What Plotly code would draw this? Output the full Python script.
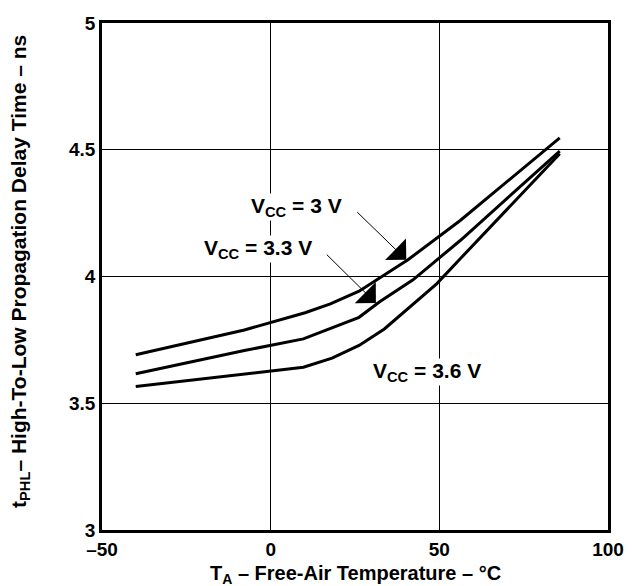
import plotly.graph_objects as go

# Data
t_3v0 = [-40, -7.8, 10.2, 17.7, 26.2, 40.7, 56.2, 85.7]
d_3v0 = [3.691, 3.789, 3.857, 3.892, 3.942, 4.066, 4.221, 4.547]

t_3v3 = [-40, -7.8, 9.7, 26.2, 32.2, 42.2, 56.2, 85.7]
d_3v3 = [3.616, 3.708, 3.754, 3.839, 3.899, 3.987, 4.142, 4.495]

t_3v6 = [-40, 9.7, 18.2, 26.2, 33.7, 49.2, 56.2, 76.2, 85.7]
d_3v6 = [3.566, 3.642, 3.678, 3.728, 3.793, 3.971, 4.070, 4.353, 4.484]

x_ticks = [-50, 0, 50, 100]
x_ticktext = ["–50", "0", "50", "100"]
y_ticks = [3, 3.5, 4, 4.5, 5]
y_ticktext = ["3", "3.5", "4", "4.5", "5"]

x_title = "T<sub>A</sub> – Free-Air Temperature – °C"
y_title = "t<sub>PHL</sub>– High-To-Low Propagation Delay Time – ns"

FONT = "Liberation Sans"

fig = go.Figure()
for t, d in [(t_3v0, d_3v0), (t_3v3, d_3v3), (t_3v6, d_3v6)]:
    fig.add_trace(go.Scatter(x=t, y=d, mode="lines",
                             line=dict(color="black", width=3),
                             showlegend=False, hoverinfo="skip"))

axis_common = dict(showgrid=True, gridcolor="black", gridwidth=1,
                   showline=True, linecolor="black", linewidth=2.5, mirror=True,
                   zeroline=False, ticks="", automargin=False,
                   tickfont=dict(family=FONT, size=19, color="black"))

fig.update_xaxes(range=[-50, 100], tickvals=x_ticks,
                 ticktext=["<b>%s</b>" % s for s in x_ticktext], **axis_common)
fig.update_yaxes(range=[3, 5], tickvals=y_ticks,
                 ticktext=["<b>%s</b>" % s for s in y_ticktext], **axis_common)

# axis titles as annotations (placed like the reference)
fig.add_annotation(xref="paper", yref="paper", x=0.5, y=-0.088,
                   text="<b>" + x_title + "</b>", showarrow=False,
                   xanchor="center", yanchor="middle",
                   font=dict(family=FONT, size=20, color="black"))
fig.add_annotation(xref="paper", yref="paper", x=-0.162, y=0.509,
                   text="<b>" + y_title + "</b>", showarrow=False, textangle=-90,
                   xanchor="center", yanchor="middle",
                   font=dict(family=FONT, size=21, color="black"))

labels = [
    ("V<sub>CC</sub> = 3 V", 7.7, 4.276),
    ("V<sub>CC</sub> = 3.3 V", -3.8, 4.109),
    ("V<sub>CC</sub> = 3.6 V", 46.2, 3.622),
]
for txt, x, y in labels:
    fig.add_annotation(x=x, y=y, xref="x", yref="y", text="<b>" + txt + "</b>",
                       showarrow=False, bgcolor="white", borderpad=0,
                       font=dict(family=FONT, size=21, color="black"))

arrows = [
    (25.2, 4.26, 40.2, 4.066),
    (16.2, 4.092, 31.2, 3.895),
]
for ax, ay, x, y in arrows:
    fig.add_annotation(x=x, y=y, ax=ax, ay=ay, xref="x", yref="y",
                       axref="x", ayref="y", text="", showarrow=True,
                       arrowhead=1, arrowsize=5, arrowwidth=1, arrowcolor="black")

fig.update_layout(width=632, height=586,
                  margin=dict(l=94, r=32, t=15, b=64),
                  paper_bgcolor="white", plot_bgcolor="white",
                  font=dict(family=FONT, color="black"))

fig.write_html("out.html")
